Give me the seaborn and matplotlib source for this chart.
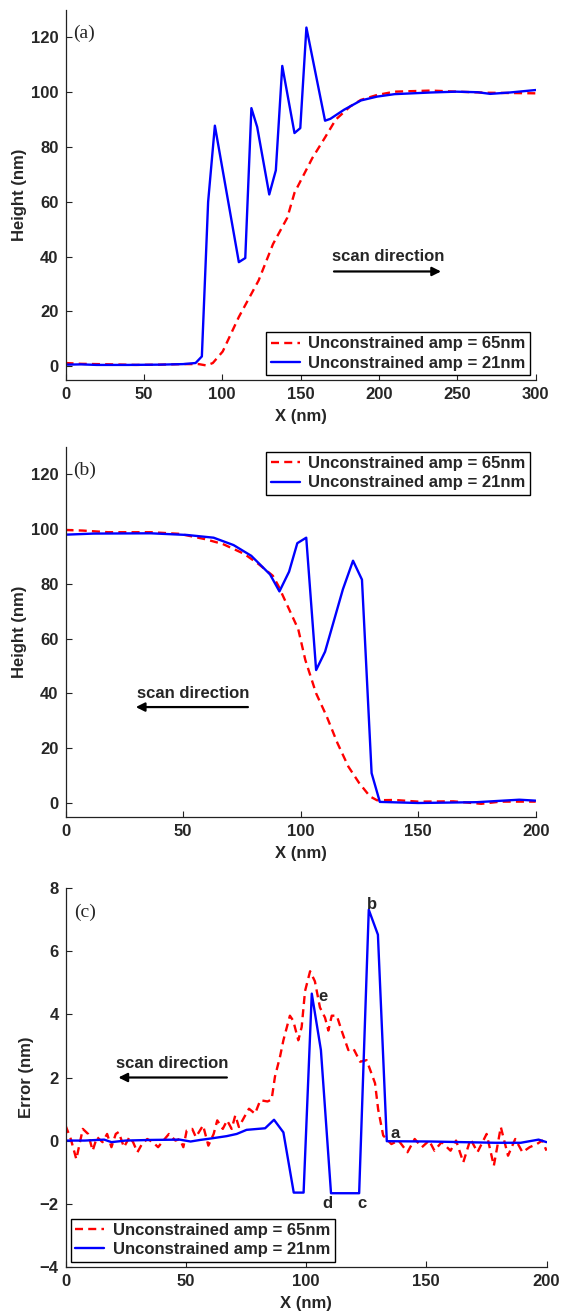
import matplotlib
matplotlib.use("Agg")
import matplotlib.pyplot as plt
import seaborn as sns

# ---------------- data ----------------
# (a) forward scan over the step
a_x_65 = [0, 10, 20, 30, 45, 60, 75, 85, 90, 94, 100.3, 110.6, 123.2, 132.4, 141.5,
          146.1, 157.5, 165.6, 172.4, 181.6, 188.5, 198.8, 210, 233, 250, 270, 285, 300]
a_y_65 = [1.2, 0.9, 0.8, 0.7, 0.5, 0.6, 0.8, 0.8, 0.3, 1.2, 5.4, 18, 31.3, 44.6, 54.2,
          63.3, 76, 83.5, 90, 94.8, 97.2, 99, 100.2, 100.6, 100.2, 99.8, 99.7, 99.6]
a_x_21 = [0, 10, 20, 40, 60, 75, 83, 87, 91, 95.3, 110.6, 114.7, 118.6, 122.3, 130,
          134.2, 138.3, 146.1, 149.8, 153.7, 165.6, 169, 177.7, 188.5, 198.8, 210,
          233, 249, 263, 271, 283.5, 300]
a_y_21 = [0.6, 0.7, 0.5, 0.5, 0.6, 0.8, 1.2, 3.6, 60, 87.8, 38, 39.5, 94.2, 87.3, 62.7,
          71.5, 109.6, 85.1, 86.9, 123.6, 89.6, 90.3, 93.6, 97, 98.4, 99.3,
          99.9, 100.2, 100, 99.4, 99.9, 100.8]

# (b) reverse scan over the step
b_x_65 = [0, 7.3, 18, 36.3, 48.5, 59.2, 66.9, 76, 82.1, 88.2, 90.5, 94.4, 99, 102,
          106.6, 111.1, 115.7, 120.3, 124.9, 129.5, 132.5, 140, 150, 165, 176.8, 185, 200]
b_y_65 = [99.6, 99.4, 98.8, 98.8, 98.2, 96.3, 94.5, 90.9, 87.2, 82.9, 79.3, 72, 63.4, 52.2,
          40, 31.6, 21.8, 13.3, 7.3, 2.4, 1, 1.1, 0.5, 0.6, -0.3, 0.5, 0.5]
b_x_21 = [0, 11.9, 36.3, 51.6, 63, 71.5, 79, 87, 91, 95.1, 98.6, 102.4, 106.6, 110.4,
          118, 122.3, 126.1, 130.2, 133.7, 150, 175, 193, 200]
b_y_21 = [97.9, 98.3, 98.4, 97.8, 96.8, 94.1, 90.2, 83.4, 77.2, 84.4, 94.8, 96.8, 48.5, 55.2,
          78, 88.4, 81.5, 10.9, 0.4, 0, 0.3, 1.2, 0.85]

# (c) tracking error of the reverse scan
c_x_65 = [0, 2.2, 4.5, 7.2, 9.4, 11.3, 13.1, 15.4, 17.3, 19.1, 20.9, 22.1, 24.3, 26.6,
          28.1, 29.9, 31.8, 34, 36.3, 38.5, 40.7, 43, 45.7, 47.5, 49, 50.4, 52.7, 54.2,
          57.2, 59.4, 61.6, 63.1, 65.4, 67.2, 69.1, 70.6, 72.1, 74.3, 76.3, 78.8, 81, 84,
          85.7, 87.1, 89.2, 90.6, 93.3, 94.7, 96.8, 98.2, 99.6, 101.7, 103.7, 105.8, 107.9,
          109.3, 110.7, 112.8, 114.8, 117.6, 119.7, 122.5, 125.2, 128.7, 130, 132.1, 135.5,
          138.5, 142.2, 145.2, 148.2, 151.2, 153.4, 156.4, 160.1, 162.4, 165.4, 168.4,
          171.3, 175.1, 178.1, 181, 184, 187, 190, 193, 196, 198.2, 200]
c_y_65 = [0.48, 0.05, -0.59, 0.37, 0.21, -0.32, 0.11, -0.05, 0.21, -0.21, 0.21, 0.27, -0.21, 0.11,
          -0.05, -0.37, -0.11, 0.05, -0.05, -0.21, 0, 0.21, 0, 0.05, -0.21, 0.32, 0.37, 0.11,
          0.48, -0.16, 0.21, 0.64, 0.37, 0.64, 0.37, 0.8, 0.43, 0.74, 1.01, 0.85, 1.28, 1.24,
          1.3, 2.03, 2.66, 3.18, 3.96, 3.8, 3.18, 3.6, 4.74, 5.37, 5.05, 4.22, 3.9,
          3.49, 3.96, 3.96, 3.49, 2.87, 2.92, 2.5, 2.55, 1.82, 0.99, 0.16, -0.11,
          0, -0.37, 0.05, -0.21, 0, -0.32, -0.05, -0.32, 0, -0.69, 0.05,
          -0.37, 0.21, -0.8, 0.43, -0.48, 0.05, -0.37, -0.21, -0.11, 0, -0.32]
c_x_21 = [0, 8, 16.1, 19.1, 25, 35.5, 47.5, 52, 56, 60.8, 67, 71.2, 75.3, 83, 86.7, 90.6,
          94.9, 99, 102.4, 106.2, 110.4, 122.1, 126.1, 129.9, 133.6, 152, 165, 178.8,
          189.3, 196.7, 200]
c_y_21 = [0, 0, 0.03, -0.05, 0, 0.02, 0.03, -0.03, 0.02, 0.07, 0.14, 0.21, 0.34, 0.39, 0.66, 0.26,
          -1.65, -1.65, 4.66, 2.87, -1.67, -1.67, 7.32, 6.53, -0.02, -0.03, -0.05, -0.07,
          -0.07, 0.03, -0.05]

# point markers on the error trace
mark_labels = ["a", "b", "c", "d", "e"]
mark_x = [137, 127.3, 123.1, 109.1, 107.1]
mark_y = [0.21, 7.5, -1.98, -1.98, 4.58]

series_labels = ["Unconstrained amp = 65nm", "Unconstrained amp = 21nm"]
panel_tags = ["(a)", "(b)", "(c)"]
a_ticks_x = [0, 50, 100, 150, 200, 250, 300]
bc_ticks_x = [0, 50, 100, 150, 200]
h_ticks_y = [0, 20, 40, 60, 80, 100, 120]
e_ticks_y = [-4, -2, 0, 2, 4, 6, 8]

# ---------------- style ----------------
sns.set_style("ticks")
plt.rcParams["font.family"] = ["Liberation Sans", "DejaVu Sans"]
plt.rcParams["font.weight"] = "bold"
plt.rcParams["axes.labelweight"] = "bold"
plt.rcParams["xtick.direction"] = "in"
plt.rcParams["ytick.direction"] = "in"

RED = "#ff0000"
BLUE = "#0000ff"
FS = 12

W, H = 562, 1315
fig = plt.figure(figsize=(W / 100, H / 100), dpi=100)


def make_axes(left, top, right, bottom):
    return fig.add_axes([left / W, 1 - bottom / H, (right - left) / W, (bottom - top) / H])


ax_a = make_axes(65.5, 10, 535.7, 380)
ax_b = make_axes(65.5, 446.7, 535.7, 816.7)
ax_c = make_axes(65.5, 888.3, 546.5, 1266.7)


def draw_pair(ax, x65, y65, x21, y21):
    sns.lineplot(x=x65, y=y65, ax=ax, color=RED, lw=1.7, estimator=None, sort=False,
                 dashes=False, label=series_labels[0])
    ax.lines[-1].set_dashes([3.4, 2.2])
    sns.lineplot(x=x21, y=y21, ax=ax, color=BLUE, lw=1.7, estimator=None, sort=False,
                 label=series_labels[1])


def style_axes(ax, xlim, ylim, xt, yt, ylabel, tag):
    ax.set_xlim(*xlim)
    ax.set_ylim(*ylim)
    ax.set_xticks(xt)
    ax.set_yticks(yt)
    ax.set_xlabel("X (nm)", fontsize=FS, fontweight="bold")
    ax.set_ylabel(ylabel, fontsize=FS, fontweight="bold")
    for s in ("top", "right"):
        ax.spines[s].set_visible(False)
    for s in ("left", "bottom"):
        ax.spines[s].set_color("#222222")
        ax.spines[s].set_linewidth(0.9)
    ax.tick_params(axis="both", length=4, width=0.8, labelsize=FS, pad=5,
                   color="#222222")
    for lab in ax.get_xticklabels() + ax.get_yticklabels():
        lab.set_fontweight("bold")
    ax.text(0.04, 0.937, tag, transform=ax.transAxes, ha="center", va="center",
            fontsize=14, family="Liberation Serif", fontweight="normal")


def style_legend(ax, loc, anchor):
    leg = ax.legend(loc=loc, bbox_to_anchor=anchor, borderaxespad=0, fancybox=False,
                    edgecolor="black", framealpha=1, fontsize=FS, handlelength=1.75,
                    handletextpad=0.5, labelspacing=0.25, borderpad=0.27)
    leg.get_frame().set_linewidth(1.0)
    for t in leg.get_texts():
        t.set_fontweight("bold")


def scan_arrow(ax, x_from, x_to, y, tx, ty):
    ax.annotate("", xy=(x_to, y), xytext=(x_from, y),
                arrowprops=dict(arrowstyle="-|>", color="black", lw=1.6,
                                mutation_scale=13, shrinkA=0, shrinkB=0))
    ax.text(tx, ty, "scan direction", ha="center", va="center", fontsize=FS,
            fontweight="bold")


# (a)
draw_pair(ax_a, a_x_65, a_y_65, a_x_21, a_y_21)
style_axes(ax_a, (0, 300), (-5, 130), a_ticks_x, h_ticks_y, "Height (nm)", panel_tags[0])
style_legend(ax_a, "lower right", (0.988, 0.0135))
scan_arrow(ax_a, 171.3, 239.6, 34.6, 206, 39.9)

# (b)
draw_pair(ax_b, b_x_65, b_y_65, b_x_21, b_y_21)
style_axes(ax_b, (0, 200), (-5, 130), bc_ticks_x, h_ticks_y, "Height (nm)", panel_tags[1])
style_legend(ax_b, "upper right", (0.988, 0.9865))
scan_arrow(ax_b, 77.6, 29.9, 35, 54.1, 40.1)

# (c)
draw_pair(ax_c, c_x_65, c_y_65, c_x_21, c_y_21)
style_axes(ax_c, (0, 200), (-4, 8), bc_ticks_x, e_ticks_y, "Error (nm)", panel_tags[2])
style_legend(ax_c, "lower left", (0.011, 0.013))
scan_arrow(ax_c, 67.1, 22, 2.0, 44.3, 2.45)
for lab, mx, my in zip(mark_labels, mark_x, mark_y):
    ax_c.text(mx, my, lab, ha="center", va="center", fontsize=FS, fontweight="bold")

# label placement
for ax, h in ((ax_a, 370), (ax_b, 370), (ax_c, 378.4)):
    ax.xaxis.set_label_coords(0.5, -29 / h)
ax_a.yaxis.set_label_coords(-38 / 470.2, 0.5)
ax_b.yaxis.set_label_coords(-38 / 470.2, 0.5)
ax_c.yaxis.set_label_coords(-31.5 / 481, 0.5)

fig.savefig("out.png", dpi=100)
